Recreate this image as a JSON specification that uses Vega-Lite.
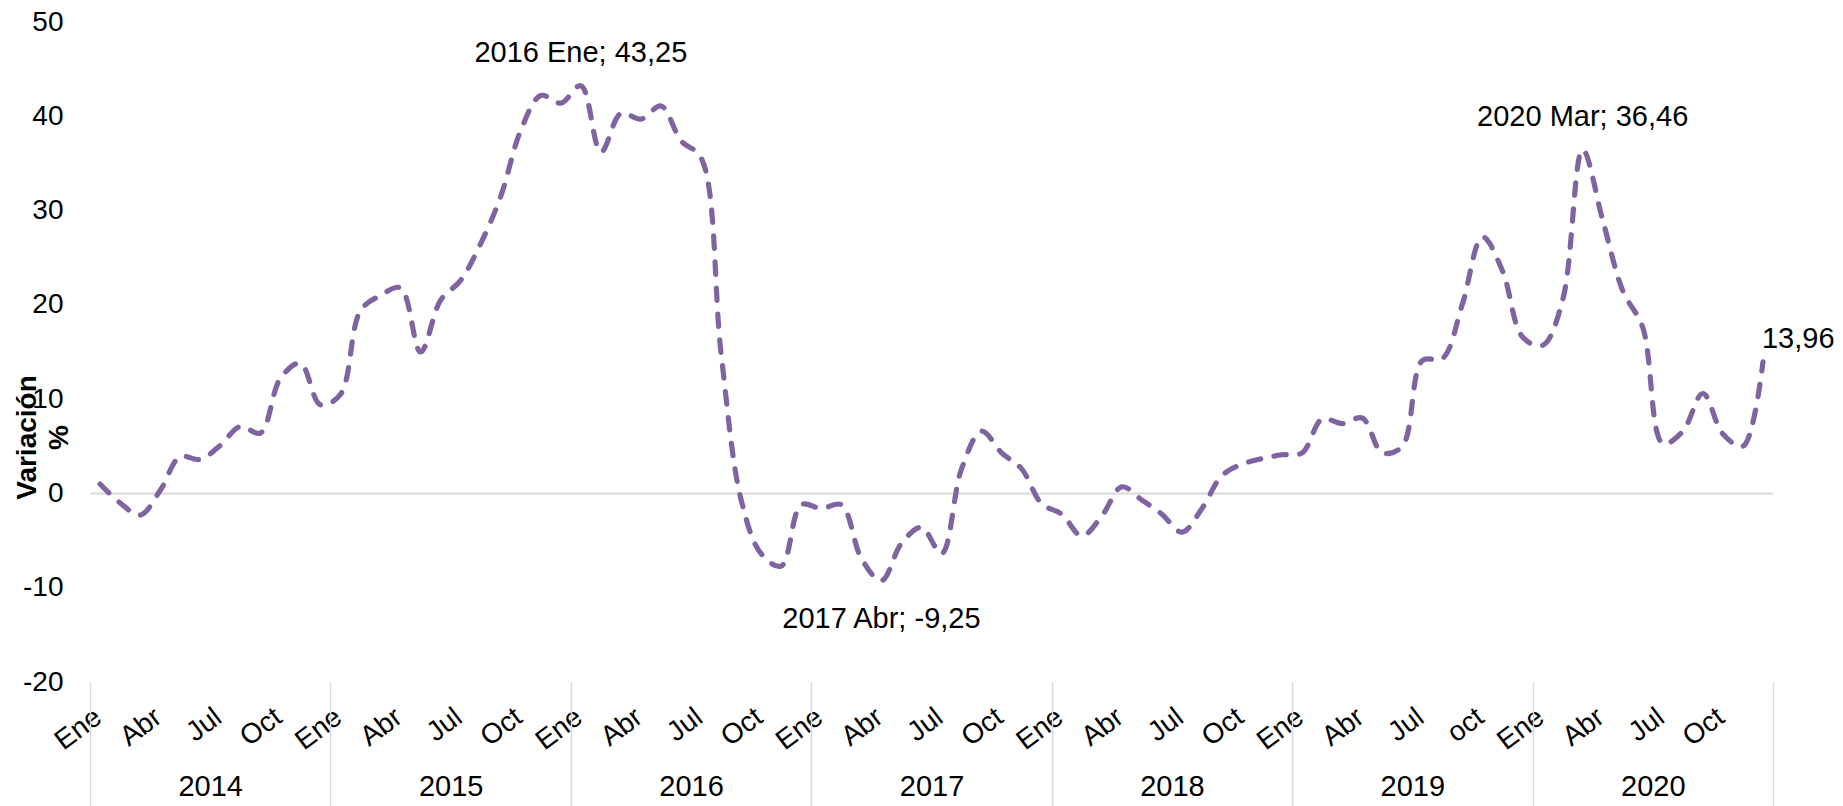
{
  "$schema": "https://vega.github.io/schema/vega-lite/v6.json",
  "width": 1683,
  "height": 660,
  "autosize": {"type": "none"},
  "padding": {"left": 90, "top": 22, "right": 70, "bottom": 124},
  "background": "white",
  "config": {"view": {"stroke": null}, "font": "Liberation Sans"},
  "datasets": {
    "serie": [
      {"n": 0, "anio": 2014, "mes": "Ene", "v": 1.0},
      {"n": 1, "anio": 2014, "mes": "Feb", "v": -1.0},
      {"n": 2, "anio": 2014, "mes": "Mar", "v": -2.3},
      {"n": 3, "anio": 2014, "mes": "Abr", "v": 0.3},
      {"n": 4, "anio": 2014, "mes": "May", "v": 3.9},
      {"n": 5, "anio": 2014, "mes": "Jun", "v": 3.6},
      {"n": 6, "anio": 2014, "mes": "Jul", "v": 5.1},
      {"n": 7, "anio": 2014, "mes": "Ago", "v": 7.1},
      {"n": 8, "anio": 2014, "mes": "Sep", "v": 6.4},
      {"n": 9, "anio": 2014, "mes": "Oct", "v": 12.2},
      {"n": 10, "anio": 2014, "mes": "Nov", "v": 13.8},
      {"n": 11, "anio": 2014, "mes": "Dic", "v": 9.4},
      {"n": 12, "anio": 2015, "mes": "Ene", "v": 10.5},
      {"n": 13, "anio": 2015, "mes": "Feb", "v": 19.4},
      {"n": 14, "anio": 2015, "mes": "Mar", "v": 21.0},
      {"n": 15, "anio": 2015, "mes": "Abr", "v": 21.8},
      {"n": 16, "anio": 2015, "mes": "May", "v": 15.0},
      {"n": 17, "anio": 2015, "mes": "Jun", "v": 20.5},
      {"n": 18, "anio": 2015, "mes": "Jul", "v": 22.6},
      {"n": 19, "anio": 2015, "mes": "Ago", "v": 26.5},
      {"n": 20, "anio": 2015, "mes": "Sep", "v": 31.5},
      {"n": 21, "anio": 2015, "mes": "Oct", "v": 38.5},
      {"n": 22, "anio": 2015, "mes": "Nov", "v": 42.2},
      {"n": 23, "anio": 2015, "mes": "Dic", "v": 41.4},
      {"n": 24, "anio": 2016, "mes": "Ene", "v": 43.25},
      {"n": 25, "anio": 2016, "mes": "Feb", "v": 36.2},
      {"n": 26, "anio": 2016, "mes": "Mar", "v": 40.3},
      {"n": 27, "anio": 2016, "mes": "Abr", "v": 39.7},
      {"n": 28, "anio": 2016, "mes": "May", "v": 41.1},
      {"n": 29, "anio": 2016, "mes": "Jun", "v": 37.4},
      {"n": 30, "anio": 2016, "mes": "Jul", "v": 35.6},
      {"n": 31, "anio": 2016, "mes": "Ago", "v": 14.8},
      {"n": 32, "anio": 2016, "mes": "Sep", "v": -0.7},
      {"n": 33, "anio": 2016, "mes": "Oct", "v": -6.4},
      {"n": 34, "anio": 2016, "mes": "Nov", "v": -7.7},
      {"n": 35, "anio": 2016, "mes": "Dic", "v": -1.2},
      {"n": 36, "anio": 2017, "mes": "Ene", "v": -1.6},
      {"n": 37, "anio": 2017, "mes": "Feb", "v": -1.2},
      {"n": 38, "anio": 2017, "mes": "Mar", "v": -6.9},
      {"n": 39, "anio": 2017, "mes": "Abr", "v": -9.25},
      {"n": 40, "anio": 2017, "mes": "May", "v": -5.3},
      {"n": 41, "anio": 2017, "mes": "Jun", "v": -3.6},
      {"n": 42, "anio": 2017, "mes": "Jul", "v": -6.4},
      {"n": 43, "anio": 2017, "mes": "Ago", "v": 2.6},
      {"n": 44, "anio": 2017, "mes": "Sep", "v": 6.6},
      {"n": 45, "anio": 2017, "mes": "Oct", "v": 4.3},
      {"n": 46, "anio": 2017, "mes": "Nov", "v": 2.6},
      {"n": 47, "anio": 2017, "mes": "Dic", "v": -1.1},
      {"n": 48, "anio": 2018, "mes": "Ene", "v": -2.2},
      {"n": 49, "anio": 2018, "mes": "Feb", "v": -4.5},
      {"n": 50, "anio": 2018, "mes": "Mar", "v": -2.4},
      {"n": 51, "anio": 2018, "mes": "Abr", "v": 0.7},
      {"n": 52, "anio": 2018, "mes": "May", "v": -0.7},
      {"n": 53, "anio": 2018, "mes": "Jun", "v": -2.2},
      {"n": 54, "anio": 2018, "mes": "Jul", "v": -4.1},
      {"n": 55, "anio": 2018, "mes": "Ago", "v": -1.6},
      {"n": 56, "anio": 2018, "mes": "Sep", "v": 1.9},
      {"n": 57, "anio": 2018, "mes": "Oct", "v": 3.1},
      {"n": 58, "anio": 2018, "mes": "Nov", "v": 3.7},
      {"n": 59, "anio": 2018, "mes": "Dic", "v": 4.1},
      {"n": 60, "anio": 2019, "mes": "Ene", "v": 4.3},
      {"n": 61, "anio": 2019, "mes": "Feb", "v": 7.9},
      {"n": 62, "anio": 2019, "mes": "Mar", "v": 7.4},
      {"n": 63, "anio": 2019, "mes": "Abr", "v": 8.0},
      {"n": 64, "anio": 2019, "mes": "May", "v": 4.3},
      {"n": 65, "anio": 2019, "mes": "Jun", "v": 5.0},
      {"n": 66, "anio": 2019, "mes": "Jul", "v": 14.1},
      {"n": 67, "anio": 2019, "mes": "Ago", "v": 14.3},
      {"n": 68, "anio": 2019, "mes": "Sep", "v": 20.1},
      {"n": 69, "anio": 2019, "mes": "Oct", "v": 27.2},
      {"n": 70, "anio": 2019, "mes": "Nov", "v": 23.6},
      {"n": 71, "anio": 2019, "mes": "Dic", "v": 16.6},
      {"n": 72, "anio": 2020, "mes": "Ene", "v": 15.7},
      {"n": 73, "anio": 2020, "mes": "Feb", "v": 20.5},
      {"n": 74, "anio": 2020, "mes": "Mar", "v": 36.46},
      {"n": 75, "anio": 2020, "mes": "Abr", "v": 29.0},
      {"n": 76, "anio": 2020, "mes": "May", "v": 21.5},
      {"n": 77, "anio": 2020, "mes": "Jun", "v": 17.6},
      {"n": 78, "anio": 2020, "mes": "Jul", "v": 5.3},
      {"n": 79, "anio": 2020, "mes": "Ago", "v": 6.6},
      {"n": 80, "anio": 2020, "mes": "Sep", "v": 10.6},
      {"n": 81, "anio": 2020, "mes": "Oct", "v": 6.3},
      {"n": 82, "anio": 2020, "mes": "Nov", "v": 5.0},
      {"n": 83, "anio": 2020, "mes": "Dic", "v": 13.96}
    ],
    "etiquetas": [
      {"n": 24, "v": 43.25, "texto": "2016 Ene; 43,25"},
      {"n": 74, "v": 36.46, "texto": "2020 Mar; 36,46"},
      {"n": 39, "v": -9.25, "texto": "2017 Abr; -9,25"},
      {"n": 83, "v": 13.96, "texto": "13,96"}
    ]
  },
  "resolve": {"axis": {"x": "independent", "y": "independent"}},
  "layer": [
    {
      "data": {"values": [{"cero": 0}]},
      "mark": {"type": "rule", "color": "#d9d9d9", "strokeWidth": 2},
      "encoding": {
        "y": {"field": "cero", "type": "quantitative", "axis": null}
      }
    },
    {
      "data": {"name": "serie"},
      "mark": {
        "type": "line",
        "interpolate": "catmull-rom",
        "color": "#8064A2",
        "strokeWidth": 5.2,
        "strokeDash": [12.5, 13.5],
        "strokeCap": "round"
      },
      "encoding": {
        "x": {
          "field": "n",
          "type": "quantitative",
          "scale": {"domain": [-0.5, 83.5], "nice": false, "zero": false},
          "axis": {
            "orient": "bottom",
            "values": [0, 3, 6, 9, 12, 15, 18, 21, 24, 27, 30, 33, 36, 39, 42, 45, 48, 51, 54, 57, 60, 63, 66, 69, 72, 75, 78, 81],
            "labelExpr": "datum.value == 69 ? 'oct' : ['Ene','Abr','Jul','Oct'][(datum.value % 12) / 3]",
            "labelAngle": -37,
            "labelAlign": "right",
            "labelBaseline": "middle",
            "labelOffset": -2,
            "labelPadding": 32,
            "labelFontSize": 28,
            "labelFont": "Liberation Sans",
            "labelColor": "#000000",
            "labelOverlap": false,
            "labelBound": false,
            "labelFlush": false,
            "ticks": false,
            "domain": false,
            "grid": false,
            "title": null
          }
        },
        "y": {
          "field": "v",
          "type": "quantitative",
          "scale": {"domain": [-20, 50], "nice": false, "zero": false},
          "axis": {
            "orient": "left",
            "values": [-20, -10, 0, 10, 20, 30, 40, 50],
            "labelExpr": "'' + datum.value",
            "domain": false,
            "ticks": false,
            "grid": false,
            "labelFontSize": 28,
            "labelFont": "Liberation Sans",
            "labelColor": "#000000",
            "labelPadding": 27,
            "title": ["Variación", "%"],
            "titleFontSize": 28,
            "titleFont": "Liberation Sans",
            "titleFontWeight": "bold",
            "titleColor": "#000000",
            "titleAngle": -90,
            "titleX": -63,
            "titleY": 415,
            "titleAlign": "center",
            "titleBaseline": "middle",
            "titleLineHeight": 32
          }
        }
      }
    },
    {
      "data": {"name": "etiquetas"},
      "transform": [{"filter": "datum.n == 24 || datum.n == 74"}],
      "mark": {"type": "text", "fontSize": 29, "font": "Liberation Sans", "color": "#000000", "align": "center", "baseline": "alphabetic", "dy": -24},
      "encoding": {
        "x": {
          "field": "n",
          "type": "quantitative",
          "axis": {
            "orient": "bottom",
            "values": [-0.5, 11.5, 23.5, 35.5, 47.5, 59.5, 71.5, 83.5],
            "labels": false,
            "ticks": true,
            "tickSize": 124,
            "tickColor": "#d9d9d9",
            "tickWidth": 1.5,
            "domain": false,
            "grid": false,
            "title": null
          }
        },
        "y": {"field": "v", "type": "quantitative", "axis": null},
        "text": {"field": "texto"}
      }
    },
    {
      "data": {"name": "etiquetas"},
      "transform": [{"filter": "datum.n == 39"}],
      "mark": {"type": "text", "fontSize": 29, "font": "Liberation Sans", "color": "#000000", "align": "center", "baseline": "alphabetic", "dy": 47},
      "encoding": {
        "x": {
          "field": "n",
          "type": "quantitative",
          "axis": {
            "orient": "bottom",
            "values": [5.5, 17.5, 29.5, 41.5, 53.5, 65.5, 77.5],
            "labelExpr": "'' + (2014 + (datum.value - 5.5) / 12)",
            "labelFontSize": 29,
            "labelFont": "Liberation Sans",
            "labelColor": "#000000",
            "labelBaseline": "alphabetic",
            "labelPadding": 113,
            "labelAngle": 0,
            "labelOverlap": false,
            "labelBound": false,
            "labelFlush": false,
            "ticks": false,
            "domain": false,
            "grid": false,
            "title": null
          }
        },
        "y": {"field": "v", "type": "quantitative", "axis": null},
        "text": {"field": "texto"}
      }
    },
    {
      "data": {"name": "etiquetas"},
      "transform": [{"filter": "datum.n == 83"}],
      "mark": {"type": "text", "fontSize": 29, "font": "Liberation Sans", "color": "#000000", "align": "left", "baseline": "alphabetic", "dx": -1, "dy": -14},
      "encoding": {
        "x": {"field": "n", "type": "quantitative", "axis": null},
        "y": {"field": "v", "type": "quantitative", "axis": null},
        "text": {"field": "texto"}
      }
    }
  ]
}
